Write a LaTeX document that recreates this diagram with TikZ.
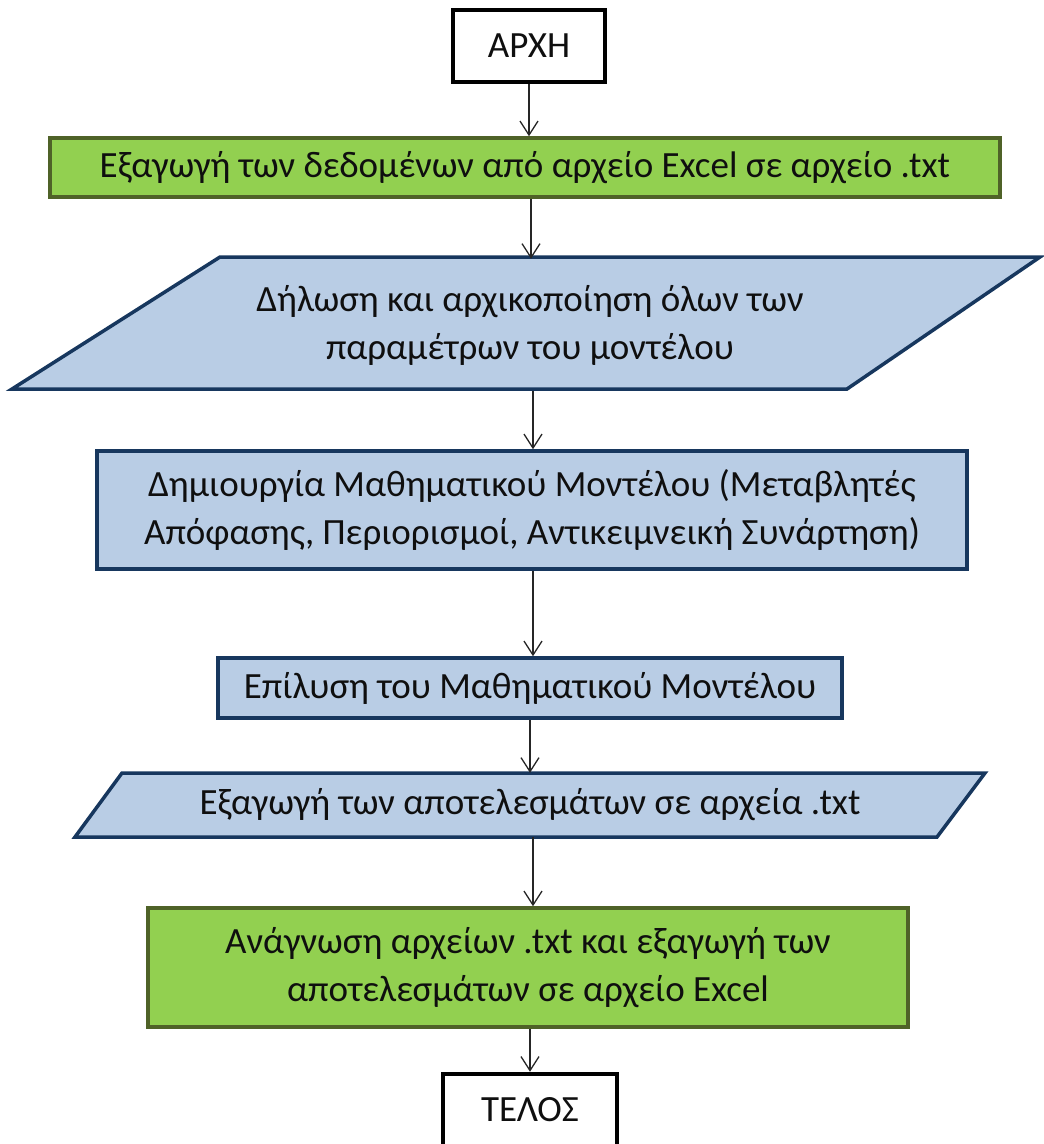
\documentclass[tikz,border=0pt]{standalone}
\usepackage{fontspec}
\setmainfont{Carlito}
\usetikzlibrary{arrows.meta}
\definecolor{grnfill}{RGB}{146,208,80}
\definecolor{grnline}{RGB}{79,98,40}
\definecolor{bluefill}{RGB}{185,205,229}
\definecolor{blueline}{RGB}{23,55,94}
\definecolor{txt}{RGB}{15,15,15}
\begin{document}
\begin{tikzpicture}[x=1pt,y=-1pt,
  base/.style={inner sep=0pt, align=center, text=txt, font=\fontsize{37}{48}\selectfont},
  termbox/.style={base, draw=black, line width=4.5pt, fill=white},
  greenbox/.style={base, draw=grnline, line width=3.5pt, fill=grnfill},
  bluebox/.style={base, draw=blueline, line width=3.5pt, fill=bluefill},
  plain/.style={base},
  arr/.style={draw=black!85, line width=1.3pt, -{Straight Barb[length=14pt,width=18pt,line width=1.3pt]}}
]
\useasboundingbox (0,0) rectangle (1044,1144);
% parallelogram outlines
\filldraw[draw=blueline, fill=bluefill, line width=3.5pt, line join=miter]
  (220,257) -- (1040,257) -- (847,389) -- (12,389) -- cycle;
\filldraw[draw=blueline, fill=bluefill, line width=3.5pt, line join=miter]
  (122,773) -- (985,773) -- (937,837) -- (75,837) -- cycle;

\node[termbox, minimum width=152pt, minimum height=72pt] (start) at (529,46) {ΑΡΧΗ};
\node[greenbox, minimum width=950pt, minimum height=59pt] (g1) at (525,167.5)
  {Εξαγωγή των δεδομένων από αρχείο Excel σε αρχείο .txt};
\node[plain, minimum width=600pt, minimum height=132pt] (p1) at (530,325)
  {Δήλωση και αρχικοποίηση όλων των\\παραμέτρων του μοντέλου};
\node[bluebox, minimum width=870pt, minimum height=118pt] (r2) at (532,510)
  {Δημιουργία Μαθηματικού Μοντέλου (Μεταβλητές\\Απόφασης, Περιορισμοί, Αντικειμνεική Συνάρτηση)};
\node[bluebox, minimum width=624pt, minimum height=60pt] (r3) at (530,688)
  {Επίλυση του Μαθηματικού Μοντέλου};
\node[plain, minimum width=600pt, minimum height=64pt] (p2) at (530,805)
  {Εξαγωγή των αποτελεσμάτων σε αρχεία .txt};
\node[greenbox, minimum width=760pt, minimum height=119pt] (g2) at (528,967.5)
  {Ανάγνωση αρχείων .txt και εξαγωγή των\\αποτελεσμάτων σε αρχείο Excel};
\node[termbox, minimum width=174pt, minimum height=72pt] (end) at (530,1110) {ΤΕΛΟΣ};

\draw[arr] (start.south) -- (start.south |- g1.north);
\draw[arr] ([xshift=6pt]g1.south) -- ([xshift=6pt]g1.south |- p1.north);
\draw[arr] ([xshift=3pt]p1.south) -- ([xshift=3pt]p1.south |- r2.north);
\draw[arr] ([xshift=1pt]r2.south) -- ([xshift=1pt]r2.south |- r3.north);
\draw[arr] (r3.south) -- (r3.south |- p2.north);
\draw[arr] ([xshift=3pt]p2.south) -- ([xshift=3pt]p2.south |- g2.north);
\draw[arr] ([xshift=2pt]g2.south) -- ([xshift=2pt]g2.south |- end.north);
\end{tikzpicture}
\end{document}
